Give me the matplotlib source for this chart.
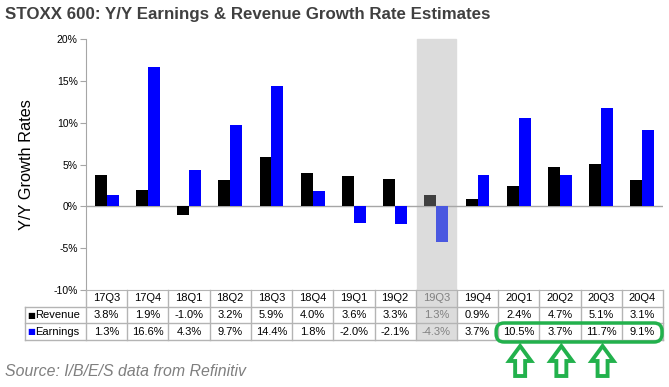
import matplotlib
matplotlib.use('Agg')
import matplotlib.pyplot as plt
from matplotlib.patches import Rectangle, FancyBboxPatch, Polygon
from matplotlib.transforms import blended_transform_factory, Affine2D

# Data
quarters = ['17Q3', '17Q4', '18Q1', '18Q2', '18Q3', '18Q4', '19Q1',
            '19Q2', '19Q3', '19Q4', '20Q1', '20Q2', '20Q3', '20Q4']
revenue = [3.8, 1.9, -1.0, 3.2, 5.9, 4.0, 3.6, 3.3, 1.3, 0.9, 2.4, 4.7, 5.1, 3.1]
earnings = [1.3, 16.6, 4.3, 9.7, 14.4, 1.8, -2.0, -2.1, -4.3, 3.7, 10.5, 3.7, 11.7, 9.1]
current_q = '19Q3'
circled = ['20Q1', '20Q2', '20Q3', '20Q4']
arrow_qs = ['20Q1', '20Q2', '20Q3']
title = 'STOXX 600: Y/Y Earnings & Revenue Growth Rate Estimates'

W, H = 669, 387
fig = plt.figure(figsize=(W / 100, H / 100), dpi=100)
plt.rcParams['font.family'] = ['Liberation Sans', 'DejaVu Sans']

ax = fig.add_axes([86 / W, 1 - 290 / H, 577 / W, 251 / H])
x = list(range(len(quarters)))
cur = quarters.index(current_q)
bw = 0.29
grid_c = '#b4b4b4'

rev_colors = ['#404040' if q == current_q else 'black' for q in quarters]
ear_colors = ['#4a58e0' if q == current_q else '#0000ff' for q in quarters]
ax.bar([i - bw / 2 for i in x], revenue, width=bw, color=rev_colors, zorder=3)
ax.bar([i + bw / 2 for i in x], earnings, width=bw, color=ear_colors, zorder=3)

ax.set_xlim(-0.5, len(quarters) - 0.5)
ax.set_ylim(-10, 20)
ax.set_yticks(range(-10, 21, 5))
ax.set_yticklabels(['%d%%' % v for v in range(-10, 21, 5)], fontsize=7.5)
ax.set_xticks([])
ax.tick_params(axis='y', direction='out', length=4, color='#a6a6a6', pad=2)
ax.axhline(0, color='#a6a6a6', lw=1, zorder=2)
for s in ['top', 'right']:
    ax.spines[s].set_visible(False)
ax.spines['left'].set_color('#a6a6a6')
ax.spines['bottom'].set_color(grid_c)
ax.set_ylabel('Y/Y Growth Rates', fontsize=11.8, labelpad=14)

# data table below the axes
rh = 16.7 / 251
tr = blended_transform_factory(ax.transData, ax.transAxes)
ax.add_patch(Rectangle((cur - 0.48, -3 * rh), 0.96, 1 + 3 * rh, transform=tr,
                       color='#dcdcdc', zorder=0, clip_on=False))
lab_x = -61 / 577
for k in range(1, 4):
    ax.plot([lab_x, 1], [-k * rh] * 2, transform=ax.transAxes, color=grid_c,
            lw=1, clip_on=False)
ax.plot([lab_x, lab_x], [-rh, -3 * rh], transform=ax.transAxes, color=grid_c,
        lw=1, clip_on=False)
for i in range(len(quarters) + 1):
    ax.plot([i - 0.5, i - 0.5], [0, -3 * rh], transform=tr, color=grid_c,
            lw=1, clip_on=False)

for i, q in enumerate(quarters):
    c = '#808080' if q == current_q else 'black'
    ax.text(i, -0.5 * rh, q, transform=tr, ha='center', va='center', fontsize=8, color=c)
    ax.text(i, -1.5 * rh, '%.1f%%' % revenue[i], transform=tr, ha='center',
            va='center', fontsize=8, color=c)
    ax.text(i, -2.5 * rh, '%.1f%%' % earnings[i], transform=tr, ha='center',
            va='center', fontsize=8, color=c)

for k, (name, col) in enumerate([('Revenue', 'black'), ('Earnings', '#0000ff')]):
    yy = -(1.5 + k) * rh
    ax.text(lab_x + 0.004, yy, '\u25a0', transform=ax.transAxes, ha='left',
            va='center', fontsize=6, color=col, family='DejaVu Sans')
    ax.text(lab_x + 0.018, yy, name, transform=ax.transAxes, ha='left',
            va='center', fontsize=8)

# green highlight, drawn in pixel coordinates
px = Affine2D().scale(1 / W, -1 / H).translate(0, 1) + fig.transFigure
green = '#22b14c'
colw = 577 / len(quarters)
i0, i1 = quarters.index(circled[0]), quarters.index(circled[-1])
x0 = 86 + i0 * colw - 2
x1 = 86 + (i1 + 1) * colw - 1
fig.patches.append(FancyBboxPatch((x0, 323), x1 - x0, 19,
                                  boxstyle='round,pad=0,rounding_size=8',
                                  transform=px, fill=False, edgecolor=green, lw=2.5))
for q in arrow_qs:
    cx = 86 + quarters.index(q) * colw + 22
    pts = [(cx, 346), (cx + 11, 361), (cx + 5, 361), (cx + 5, 376),
           (cx - 5, 376), (cx - 5, 361), (cx - 11, 361)]
    fig.patches.append(Polygon(pts, closed=True, transform=px, facecolor='white',
                               edgecolor=green, lw=2.8, joinstyle='miter'))

fig.text(5 / W, 1 - 14 / H, title, fontsize=12.2, fontweight='bold',
         color='#404040', va='center')
fig.text(5 / W, 1 - 371 / H, 'Source: I/B/E/S data from Refinitiv', fontsize=11.4,
         style='italic', color='#7f7f7f', va='center')

fig.savefig('out.png', dpi=100)
